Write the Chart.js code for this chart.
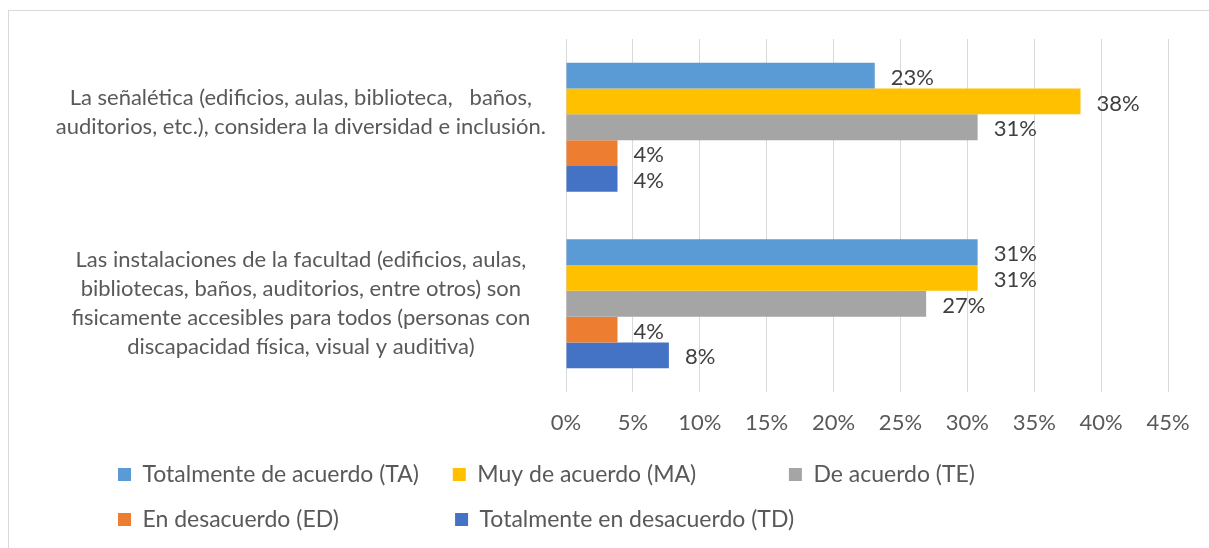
<!DOCTYPE html>
<html>
<head>
<meta charset="utf-8">
<script src="https://cdn.jsdelivr.net/npm/chart.js@4"></script>
<style>
  body { margin: 0; background: #fff; overflow: hidden; }
  #frame { position: absolute; left: 8px; top: 10px; width: 1300px; height: 700px; border: 1px solid #d9d9d9; pointer-events: none; }
  canvas { position: absolute; left: 0; top: 0; }
</style>
</head>
<body>
<canvas id="barChart" width="1209" height="548"></canvas>
<div id="frame"></div>
<script>
// categories (one array per label, multi-line as in the original)
const categories = [
  ['La señalética (edificios, aulas, biblioteca,   baños,', 'auditorios, etc.), considera la diversidad e inclusión.', ' '],
  ['Las instalaciones de la facultad (edificios, aulas,', 'bibliotecas, baños, auditorios, entre otros) son', 'fisicamente accesibles para todos (personas con', 'discapacidad física, visual y auditiva)']
];
const seriesNames = [
  'Totalmente de acuerdo (TA)',
  'Muy de acuerdo (MA)',
  'De acuerdo (TE)',
  'En desacuerdo (ED)',
  'Totalmente en desacuerdo (TD)'
];
// percentages per series, in category order
const totalAcuerdo = [23.08, 30.77];
const muyAcuerdo = [38.46, 30.77];
const deAcuerdo = [30.77, 26.92];
const enDesacuerdo = [3.85, 3.85];
const totalDesacuerdo = [3.85, 7.69];
const xTicks = [0, 5, 10, 15, 20, 25, 30, 35, 40, 45];

const colors = ['#5B9BD5', '#FFC000', '#A5A5A5', '#ED7D31', '#4472C4'];
const FONT = 'Lato';
const SIZE = 22;
const LEGEND_SIZE = 23;

const legendPad = 22;
const legendLeft = 118;
const colStep = 339;
const boxW = 13;

const valueLabels = {
  id: 'valueLabels',
  afterDatasetsDraw(chart) {
    const ctx = chart.ctx;
    ctx.save();
    ctx.font = SIZE + 'px ' + FONT;
    ctx.fillStyle = '#404040';
    ctx.textAlign = 'left';
    ctx.textBaseline = 'middle';
    chart.data.datasets.forEach((ds, i) => {
      chart.getDatasetMeta(i).data.forEach((bar, j) => {
        ctx.fillText(Math.round(ds.data[j]) + '%', bar.x + 16, bar.y + 2);
      });
    });
    ctx.restore();
  }
};

// legend starts further right than the category labels
const legendShift = {
  id: 'legendShift',
  afterLayout(chart) {
    chart.legend.left = legendLeft - legendPad;
  }
};

var ctx = document.getElementById('barChart');
var myChart = new Chart(ctx, {
  type: 'bar',
  data: {
    labels: categories,
    datasets: [totalAcuerdo, muyAcuerdo, deAcuerdo, enDesacuerdo, totalDesacuerdo].map((d, i) => ({
      label: seriesNames[i],
      data: d,
      backgroundColor: colors[i],
      borderWidth: 0,
      categoryPercentage: 0.73,
      barPercentage: 1
    }))
  },
  options: {
    indexAxis: 'y',
    responsive: false,
    animation: false,
    layout: { padding: { top: 39, left: 30, right: 41, bottom: 7 } },
    scales: {
      x: {
        min: 0,
        max: 45,
        afterBuildTicks(scale) {
          scale.ticks = xTicks.map(v => ({ value: v }));
        },
        afterFit(scale) {
          scale.height = 49;
          scale.paddingLeft = 0;
          scale.paddingRight = 0;
        },
        grid: { color: '#d9d9d9', drawTicks: false },
        border: { display: false },
        ticks: {
          padding: 20,
          color: '#595959',
          font: { family: FONT, size: SIZE, lineHeight: 1 },
          callback: v => v + '%'
        }
      },
      y: {
        grid: { display: false, drawTicks: false },
        border: { display: false },
        afterFit(scale) {
          scale.width = 566 - 30;
          scale.paddingTop = 0;
          scale.paddingBottom = 0;
        },
        ticks: {
          crossAlign: 'center',
          padding: 20,
          color: '#595959',
          font: { family: FONT, size: SIZE, lineHeight: 1.32 }
        }
      }
    },
    plugins: {
      tooltip: { enabled: false },
      legend: {
        position: 'bottom',
        align: 'start',
        labels: {
          boxWidth: boxW,
          boxHeight: boxW,
          padding: legendPad,
          color: '#595959',
          font: { family: FONT, size: LEGEND_SIZE },
          generateLabels(chart) {
            const items = Chart.defaults.plugins.legend.labels.generateLabels(chart);
            const c = chart.ctx;
            c.save();
            c.font = LEGEND_SIZE + 'px ' + FONT;
            items.forEach(it => {
              let t = it.text;
              while (boxW + LEGEND_SIZE / 2 + c.measureText(t + ' ').width + legendPad <= colStep) t += ' ';
              it.text = t;
            });
            c.restore();
            return items;
          }
        }
      }
    }
  },
  plugins: [valueLabels, legendShift]
});
</script>
</body>
</html>
